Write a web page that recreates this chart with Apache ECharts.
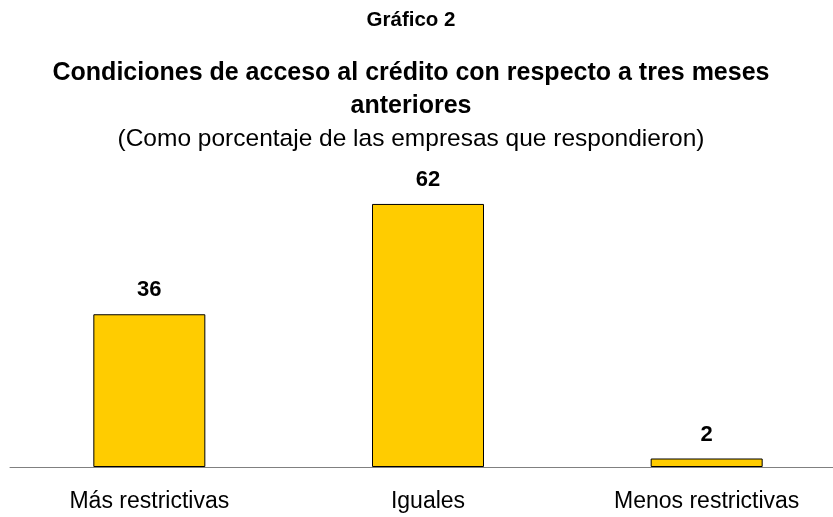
<!DOCTYPE html>
<html>
<head>
<meta charset="utf-8">
<script src="https://cdn.jsdelivr.net/npm/echarts@6/dist/echarts.min.js"></script>
<style>
html, body { margin: 0; padding: 0; background: #fff; overflow: hidden; }
/* the plot runs past the right edge of the window, so the box is wider and shifted left */
#chart { width: 870px; height: 517px; margin-left: -24px; }
</style>
</head>
<body>
<div id="chart"></div>
<script>
var categories = ['Más restrictivas', 'Iguales', 'Menos restrictivas'];
var values = [36, 62, 2];

var font = "'Liberation Sans', Arial, sans-serif";
var chart = echarts.init(document.getElementById('chart'));

chart.setOption({
    animation: false,
    title: [
        {
            text: 'Gráfico 2',
            left: 'center',
            top: 5,
            textStyle: { fontFamily: font, fontSize: 20.5, fontWeight: 'bold', color: '#000', lineHeight: 21 }
        },
        {
            text: 'Condiciones de acceso al crédito con respecto a tres meses\nanteriores',
            left: 'center',
            top: 52,
            textStyle: { fontFamily: font, fontSize: 25, fontWeight: 'bold', color: '#000', lineHeight: 33 }
        },
        {
            text: '(Como porcentaje de las empresas que respondieron)',
            left: 'center',
            top: 122,
            textStyle: { fontFamily: font, fontSize: 24.5, fontWeight: 'normal', color: '#000', lineHeight: 25 }
        }
    ],
    grid: {
        left: 34,
        top: 170,
        right: 0,
        bottom: 50,
        containLabel: false
    },
    xAxis: {
        type: 'category',
        data: categories,
        axisLine: { lineStyle: { color: '#808080', width: 1 } },
        axisTick: { show: false },
        axisLabel: {
            fontFamily: font,
            fontSize: 23,
            color: '#000',
            margin: 23,
            interval: 0
        }
    },
    yAxis: {
        type: 'value',
        min: 0,
        max: 70,
        show: false,
        splitLine: { show: false }
    },
    series: [
        {
            type: 'bar',
            data: values,
            barWidth: 112,
            itemStyle: { color: '#FFCC00', borderColor: '#000', borderWidth: 1 },
            label: {
                show: true,
                position: 'top',
                distance: 13,
                fontFamily: font,
                fontSize: 22,
                fontWeight: 'bold',
                color: '#000'
            }
        }
    ]
});
</script>
</body>
</html>
